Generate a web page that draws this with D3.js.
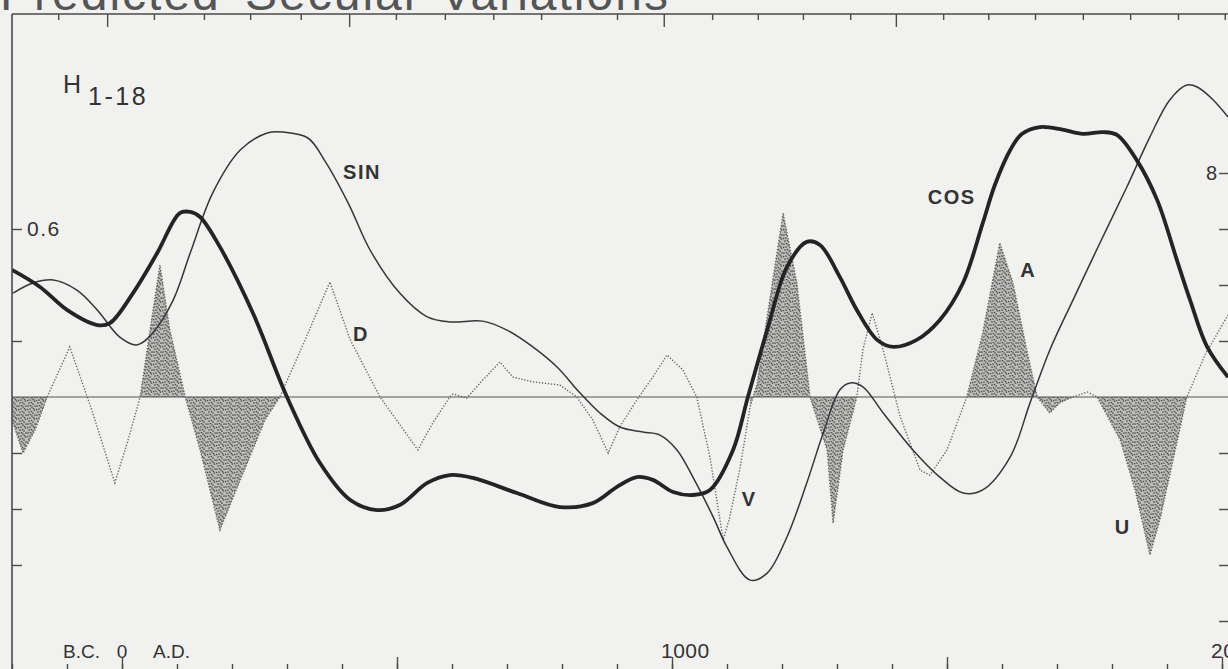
<!DOCTYPE html>
<html>
<head>
<meta charset="utf-8">
<script src="https://cdn.jsdelivr.net/npm/d3@7"></script>
<style>
  html, body { margin: 0; padding: 0; background: #f1f1ef; }
  svg { display: block; }
  .lbl { font-family: "Liberation Sans", Arial, sans-serif; fill: #333; }
</style>
</head>
<body>
<div id="chart"></div>
<script>
// ---- data: [year, value] ----
// COS (thick) and SIN (thin) use the left scale
const cosPts = [
  [-200, 0.454], [-149, 0.393], [-100, 0.311], [-45, 0.257], [-22, 0.264], [20, 0.371],
  [64, 0.514], [105, 0.657], [124, 0.661], [142, 0.643], [178, 0.536], [238, 0.300],
  [300, 0.0], [360, -0.236], [415, -0.368], [464, -0.404], [505, -0.386], [555, -0.307],
  [596, -0.279], [638, -0.289], [718, -0.343], [796, -0.393], [856, -0.379], [900, -0.321],
  [936, -0.286], [965, -0.296], [1002, -0.339], [1038, -0.350], [1069, -0.332], [1111, -0.189],
  [1138, 0.0], [1173, 0.239], [1209, 0.464], [1245, 0.554], [1269, 0.543], [1305, 0.429],
  [1336, 0.311], [1373, 0.204], [1402, 0.179], [1445, 0.204], [1487, 0.275], [1529, 0.407],
  [1565, 0.621], [1587, 0.757], [1615, 0.882], [1636, 0.939], [1669, 0.964], [1710, 0.955],
  [1747, 0.940], [1784, 0.946], [1809, 0.936], [1845, 0.846], [1882, 0.704], [1918, 0.489],
  [1942, 0.346], [1973, 0.179], [2011, 0.071]
];

const sinPts = [
  [-198, 0.371], [-162, 0.407], [-125, 0.418], [-82, 0.382], [-45, 0.311], [-4, 0.214],
  [27, 0.186], [56, 0.229], [93, 0.346], [124, 0.514], [165, 0.729], [215, 0.882],
  [264, 0.943], [293, 0.946], [338, 0.925], [370, 0.840], [412, 0.690], [451, 0.525],
  [505, 0.371], [555, 0.286], [596, 0.268], [656, 0.271], [700, 0.239], [747, 0.179],
  [791, 0.107], [833, 0.014], [869, -0.057], [905, -0.107], [947, -0.125], [978, -0.136],
  [1009, -0.189], [1038, -0.286], [1075, -0.429], [1100, -0.536], [1142, -0.654], [1173, -0.629],
  [1209, -0.500], [1245, -0.307], [1275, -0.129], [1305, 0.025], [1324, 0.050], [1347, 0.036],
  [1384, -0.057], [1438, -0.189], [1487, -0.286], [1529, -0.343], [1565, -0.332], [1615, -0.214],
  [1651, -0.021], [1687, 0.168], [1729, 0.346], [1778, 0.55], [1827, 0.75], [1869, 0.929],
  [1905, 1.061], [1936, 1.114], [1955, 1.107], [1984, 1.061], [2011, 1.0]
];

// D (dotted, right scale)
const dPts = [
  [-200, -0.82], [-180, -2.0], [-158, -1.18], [-136, 0], [-95, 1.79], [-55, -0.46],
  [-13, -3.07], [11, -1.54], [33, 0], [51, 2.39], [69, 4.71], [87, 2.39], [115, 0],
  [142, -1.89], [178, -4.75], [215, -2.96], [260, -0.82], [287, 0], [333, 2.04], [378, 4.11],
  [415, 2.04], [469, 0], [538, -1.89], [565, -0.93], [596, 0], [602, 0.11], [627, -0.04],
  [651, 0.5], [687, 1.25], [711, 0.71], [747, 0.54], [796, 0.43], [827, 0], [856, -0.82],
  [884, -2.0], [905, -1.07], [936, -0.11], [965, 0.71], [991, 1.5], [1020, 0.96], [1045, 0],
  [1069, -2.14], [1093, -5.11], [1105, -4.29], [1124, -2.5], [1142, -0.36], [1155, 0.5],
  [1173, 2.86], [1202, 6.57], [1227, 4.07], [1251, 0], [1282, -1.89], [1293, -4.5],
  [1311, -1.89], [1336, 0], [1347, 1.68], [1364, 3.0], [1384, 1.68], [1415, -0.71],
  [1451, -2.61], [1469, -2.79], [1500, -1.89], [1536, 0], [1565, 2.29], [1596, 5.5],
  [1620, 4.07], [1645, 1.68], [1664, 0], [1687, -0.57], [1705, -0.21], [1729, 0],
  [1755, 0.18], [1773, 0], [1815, -1.54], [1842, -3.32], [1869, -5.64], [1887, -4.39],
  [1915, -1.89], [1936, 0], [1969, 1.5], [2011, 2.93]
];

// stippled stretches of D (years)
const shadeSpans = [[-200, -136], [33, 287], [1142, 1336], [1536, 1729], [1773, 1936]];

// axes
const bottomMinor = d3.range(-200, 2001, 100);
const bottomMajor = [0, 500, 1000, 1500, 2000];
const bottomLabels = [[1000, '1000'], [2000, '2000']];
const topMinor = [-116, 58, 149, 233, 325, 498, 587, 675, 762, 900, 1073, 1156, 1238, 1324, 1493, 1575, 1660, 1747, 1833, 1920, 2005];
const topMajor = [-27, 413, 985, 1407];
const leftTicks = [0.6, 0.2, -0.2, -0.4, -0.6];
const rightTicks = [8, 6, 4, 2, -2, -4, -6, -8];

const curveLabels = [
  ['SIN', 402, 0.78, 'L'], ['COS', 1465, 0.69, 'L'], ['D', 420, 2.0, 'R'],
  ['V', 1127, -3.9, 'R'], ['A', 1633, 4.3, 'R'], ['U', 1805, -4.9, 'R']
];

// ---- drawing ----
const W = 1228, H = 669;
const padLeft = 12, padTop = 14;

const x = d3.scaleLinear().domain([0, 2000]).range([122, 1222]);
const yL = d3.scaleLinear().domain([-1, 1]).range([677, 117]);
const yR = d3.scaleLinear().domain([-10, 10]).range([677, 117]);

const svg = d3.select('#chart').append('svg')
  .attr('width', W).attr('height', H);

svg.append('rect').attr('width', W).attr('height', H).attr('fill', '#f1f1ef');

const defs = svg.append('defs');
defs.append('clipPath').attr('id', 'plot')
  .append('rect').attr('x', padLeft).attr('y', padTop).attr('width', W - padLeft).attr('height', H - padTop);

// stipple texture
const pat = defs.append('pattern').attr('id', 'stipple')
  .attr('patternUnits', 'userSpaceOnUse').attr('width', 9).attr('height', 9);
pat.append('rect').attr('width', 9).attr('height', 9).attr('fill', '#bdbdbb');
[[1, 1], [5, 2], [3, 4], [7.5, 5], [2, 7], [6, 8], [8, 1], [4.5, 6.5], [0.5, 4.5], [6.5, 3.5], [3.5, 0.5]]
  .forEach(p => pat.append('circle').attr('cx', p[0]).attr('cy', p[1]).attr('r', 0.85).attr('fill', '#4a4a4a'));

// title (cut off at the top of the scan, as in the original)
const title = svg.append('g').attr('class', 'lbl')
  .style('font-size', '48px').style('letter-spacing', '2px').style('fill', '#555');
[['Predicted', 0], ['Secular', 245], ['Variations', 440]].forEach(t => {
  title.append('text').attr('x', t[1]).attr('y', 10).text(t[0]);
});

const g = svg.append('g').attr('clip-path', 'url(#plot)');

const inShade = yr => shadeSpans.some(s => yr >= s[0] && yr <= s[1]);

g.append('path')
  .datum(dPts)
  .attr('fill', 'url(#stipple)')
  .attr('d', d3.area().defined(d => inShade(d[0]))
    .x(d => x(d[0])).y0(yR(0)).y1(d => yR(d[1])));

// zero line
g.append('line')
  .attr('x1', padLeft).attr('x2', W).attr('y1', yL(0)).attr('y2', yL(0))
  .attr('stroke', '#555').attr('stroke-width', 1.2);

g.append('path')
  .datum(dPts)
  .attr('fill', 'none').attr('stroke', '#666').attr('stroke-width', 1.4)
  .attr('stroke-dasharray', '1.3,1.7')
  .attr('d', d3.line().x(d => x(d[0])).y(d => yR(d[1])));

g.append('path')
  .datum(sinPts)
  .attr('fill', 'none').attr('stroke', '#363636').attr('stroke-width', 1.5)
  .attr('d', d3.line().curve(d3.curveCatmullRom.alpha(0.5)).x(d => x(d[0])).y(d => yL(d[1])));

g.append('path')
  .datum(cosPts)
  .attr('fill', 'none').attr('stroke', '#242424').attr('stroke-width', 3.8)
  .attr('stroke-linejoin', 'round')
  .attr('d', d3.line().curve(d3.curveCatmullRom.alpha(0.5)).x(d => x(d[0])).y(d => yL(d[1])));

// frame
svg.append('line').attr('x1', padLeft).attr('x2', padLeft).attr('y1', padTop).attr('y2', H)
  .attr('stroke', '#4a4a4a').attr('stroke-width', 1.6);
svg.append('line').attr('x1', padLeft).attr('x2', W).attr('y1', padTop).attr('y2', padTop)
  .attr('stroke', '#4a4a4a').attr('stroke-width', 1.6);

function styleAxis(sel) {
  sel.select('.domain').remove();
  sel.selectAll('line').attr('stroke', '#4a4a4a').attr('stroke-width', 1.4);
  sel.selectAll('text').attr('class', 'lbl').style('font-size', '20px').attr('fill', '#333');
}

// top ticks
svg.append('g').attr('transform', `translate(0,${padTop})`)
  .call(d3.axisBottom(x).tickValues(topMinor).tickSize(6).tickFormat(''))
  .call(styleAxis);
svg.append('g').attr('transform', `translate(0,${padTop})`)
  .call(d3.axisBottom(x).tickValues(topMajor).tickSize(13).tickFormat(''))
  .call(styleAxis);

// bottom ticks
svg.append('g').attr('transform', `translate(0,${H})`)
  .call(d3.axisTop(x).tickValues(bottomMinor).tickSize(5).tickFormat(''))
  .call(styleAxis);
svg.append('g').attr('transform', `translate(0,${H})`)
  .call(d3.axisTop(x).tickValues(bottomMajor).tickSize(12).tickFormat(''))
  .call(styleAxis);

// left ticks
svg.append('g').attr('transform', `translate(${padLeft},0)`)
  .call(d3.axisRight(yL).tickValues(leftTicks).tickSize(10).tickPadding(5)
    .tickFormat(d => d === 0.6 ? '0.6' : ''))
  .call(styleAxis)
  .selectAll('text').style('font-size', '21px').style('letter-spacing', '1.5px');

// right ticks
svg.append('g').attr('transform', `translate(${W},0)`)
  .call(d3.axisLeft(yR).tickValues(rightTicks).tickSize(9).tickPadding(2)
    .tickFormat(d => d === 8 ? '8' : ''))
  .call(styleAxis);

// bottom labels
const bl = svg.append('g').attr('class', 'lbl').style('font-size', '19px');
bl.append('text').attr('x', x(0) - 22).attr('y', 658).attr('text-anchor', 'end').text('B.C.');
bl.append('text').attr('x', x(0)).attr('y', 658).attr('text-anchor', 'middle').text('0');
bl.append('text').attr('x', x(0) + 31).attr('y', 658).text('A.D.');
bottomLabels.forEach(b => {
  bl.append('text').attr('x', x(b[0]) - 11).attr('y', 658)
    .style('font-size', '21px').style('letter-spacing', '0.5px').text(b[1]);
});

// H 1-18
const hl = svg.append('g').attr('class', 'lbl').style('font-size', '25px');
hl.append('text').attr('x', 63).attr('y', 93).text('H');
hl.append('text').attr('x', 88).attr('y', 105).style('letter-spacing', '2.5px').text('1-18');

// curve names
svg.append('g').attr('class', 'lbl')
  .style('font-size', '20px').style('font-weight', 'bold').style('letter-spacing', '1.5px')
  .selectAll('text').data(curveLabels).join('text')
  .attr('x', d => x(d[1]))
  .attr('y', d => (d[3] === 'L' ? yL(d[2]) : yR(d[2])))
  .text(d => d[0]);
</script>
</body>
</html>
